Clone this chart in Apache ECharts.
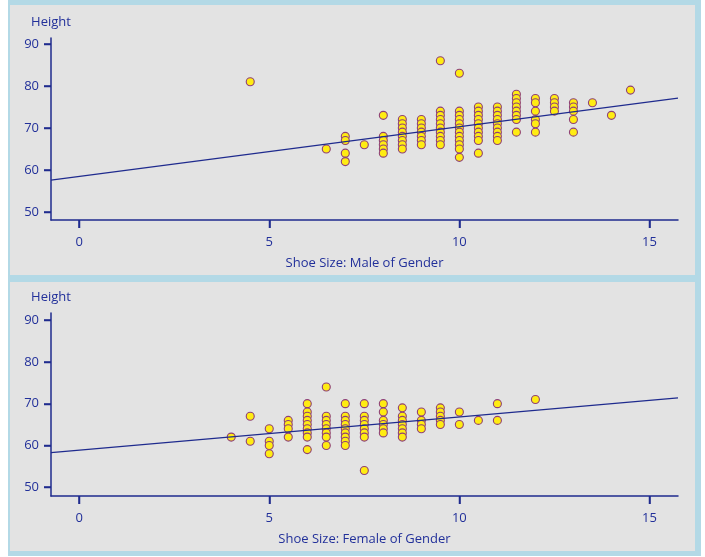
<!DOCTYPE html>
<html>
<head>
<meta charset="utf-8">
<script src="https://cdn.jsdelivr.net/npm/echarts@6/dist/echarts.min.js"></script>
<style>
	html, body { margin: 0; padding: 0; background: #fff; }
	#chart { width: 705px; height: 557px; }
</style>
</head>
<body>
<div id="chart"></div>
<script>
// shoe size / height, one entry per point
var maleSizes = [4.5, 6.5, 7, 7, 7, 7, 7.5,
	8, 8, 8, 8, 8, 8,
	8.5, 8.5, 8.5, 8.5, 8.5, 8.5, 8.5, 8.5,
	9, 9, 9, 9, 9, 9, 9,
	9.5, 9.5, 9.5, 9.5, 9.5, 9.5, 9.5, 9.5, 9.5, 9.5,
	10, 10, 10, 10, 10, 10, 10, 10, 10, 10, 10, 10,
	10.5, 10.5, 10.5, 10.5, 10.5, 10.5, 10.5, 10.5, 10.5, 10.5,
	11, 11, 11, 11, 11, 11, 11, 11, 11,
	11.5, 11.5, 11.5, 11.5, 11.5, 11.5, 11.5, 11.5,
	12, 12, 12, 12, 12, 12,
	12.5, 12.5, 12.5, 12.5,
	13, 13, 13, 13, 13,
	13.5, 14, 14.5];
var maleHeights = [81, 65, 68, 67, 64, 62, 66,
	73, 68, 67, 66, 65, 64,
	72, 71, 70, 69, 68, 67, 66, 65,
	72, 71, 70, 69, 68, 67, 66,
	86, 74, 73, 72, 71, 70, 69, 68, 67, 66,
	83, 74, 73, 72, 71, 70, 69, 68, 67, 66, 65, 63,
	75, 74, 73, 72, 71, 70, 69, 68, 67, 64,
	75, 74, 73, 72, 71, 70, 69, 68, 67,
	78, 77, 76, 75, 74, 73, 72, 69,
	77, 76, 74, 72, 71, 69,
	77, 76, 75, 74,
	76, 75, 74, 72, 69,
	76, 73, 79];

var femaleSizes = [4, 4.5, 4.5, 5, 5, 5, 5,
	5.5, 5.5, 5.5, 5.5,
	6, 6, 6, 6, 6, 6, 6, 6, 6,
	6.5, 6.5, 6.5, 6.5, 6.5, 6.5, 6.5, 6.5,
	7, 7, 7, 7, 7, 7, 7, 7, 7,
	7.5, 7.5, 7.5, 7.5, 7.5, 7.5, 7.5, 7.5,
	8, 8, 8, 8, 8, 8,
	8.5, 8.5, 8.5, 8.5, 8.5, 8.5, 8.5,
	9, 9, 9, 9,
	9.5, 9.5, 9.5, 9.5, 9.5,
	10, 10, 10.5, 11, 11, 12];
var femaleHeights = [62, 67, 61, 64, 61, 60, 58,
	66, 65, 64, 62,
	70, 68, 67, 66, 65, 64, 63, 62, 59,
	74, 67, 66, 65, 64, 63, 62, 60,
	70, 67, 66, 65, 64, 63, 62, 61, 60,
	70, 67, 66, 65, 64, 63, 62, 54,
	70, 68, 66, 65, 64, 63,
	69, 67, 66, 65, 64, 63, 62,
	68, 66, 65, 64,
	69, 68, 67, 66, 65,
	68, 65, 66, 70, 66, 71];

// fitted lines, read at both ends of the x axis
var lineX = [-0.74, 15.75];
var maleFit = [57.6, 77.1];
var femaleFit = [58.3, 71.4];

var xTicks = [0, 5, 10, 15];
var yTicks = [50, 60, 70, 80, 90];

// y extents of the panels
var maleY = [48.1, 91.4];
var femaleY = [47.9, 91.7];

var navy = '#1f2b8e';
var textBlue = '#22309a';
var fontFamily = '"Open Sans", "DejaVu Sans", sans-serif';

function pairs(xs, ys){
	var out = [];
	for (var i = 0; i < xs.length; i++) {
		out.push([xs[i], ys[i]]);
	}
	return out;
}

function xAxisFor(idx, name){
	return {
		type: 'value',
		gridIndex: idx,
		min: lineX[0],
		max: lineX[1],
		name: name,
		nameLocation: 'middle',
		nameGap: 37,
		nameTextStyle: { color: textBlue, fontSize: 13, fontFamily: fontFamily },
		axisLine: { onZero: false, lineStyle: { color: navy, width: 1.5 } },
		axisTick: { show: true, length: 8, customValues: xTicks, lineStyle: { color: navy, width: 1.5 } },
		axisLabel: { customValues: xTicks, color: textBlue, fontSize: 13, margin: 16, fontFamily: fontFamily },
		splitLine: { show: false }
	};
}

function yAxisFor(idx, range){
	return {
		type: 'value',
		gridIndex: idx,
		min: range[0],
		max: range[1],
		name: 'Height',
		nameLocation: 'end',
		nameGap: 9,
		nameTextStyle: { color: textBlue, fontSize: 13, fontFamily: fontFamily, align: 'center' },
		axisLine: { show: true, onZero: false, lineStyle: { color: navy, width: 1.5 } },
		axisTick: { show: true, length: 7, customValues: yTicks, lineStyle: { color: navy, width: 1.5 } },
		axisLabel: { customValues: yTicks, color: textBlue, fontSize: 13, margin: 12, fontFamily: fontFamily },
		splitLine: { show: false }
	};
}

function dots(idx, xs, ys){
	return {
		type: 'scatter',
		xAxisIndex: idx,
		yAxisIndex: idx,
		symbol: 'circle',
		symbolSize: 8,
		itemStyle: { color: '#ffec12', borderColor: '#8e3f78', borderWidth: 1.1, opacity: 1 },
		data: pairs(xs, ys),
		z: 2
	};
}

function fitLine(idx, ys){
	return {
		type: 'line',
		xAxisIndex: idx,
		yAxisIndex: idx,
		symbol: 'none',
		lineStyle: { color: navy, width: 1.2 },
		data: pairs(lineX, ys),
		z: 3
	};
}

// tick marks placed through the axis scales, drawn outside the plot
function xTickMarks(idx, yRange){
	var data = xTicks.map(function(v){ return [v, yRange[0]]; });
	return {
		type: 'custom',
		xAxisIndex: idx,
		yAxisIndex: idx,
		silent: true,
		clip: false,
		z: 4,
		data: data,
		renderItem: function(params, api){
			var p = api.coord([api.value(0), api.value(1)]);
			var x = Math.round(p[0]) + 0.5;
			return {
				type: 'line',
				shape: { x1: x, y1: p[1], x2: x, y2: p[1] + 8 },
				style: { stroke: navy, lineWidth: 1.5 }
			};
		}
	};
}

function yTickMarks(idx){
	var data = yTicks.map(function(v){ return [lineX[0], v]; });
	return {
		type: 'custom',
		xAxisIndex: idx,
		yAxisIndex: idx,
		silent: true,
		clip: false,
		z: 4,
		data: data,
		renderItem: function(params, api){
			var p = api.coord([api.value(0), api.value(1)]);
			var y = Math.round(p[1]) + 0.5;
			return {
				type: 'line',
				shape: { x1: p[0] - 7, y1: y, x2: p[0], y2: y },
				style: { stroke: navy, lineWidth: 1.5 }
			};
		}
	};
}

var chart = echarts.init(document.getElementById('chart'));
chart.setOption({
	animation: false,
	backgroundColor: '#ffffff',
	graphic: [
		{ type: 'rect', shape: { x: 8, y: 0, width: 693, height: 556 }, style: { fill: '#b3d9e6' }, z: -10 },
		{ type: 'rect', shape: { x: 10, y: 5, width: 685, height: 270 }, style: { fill: '#e3e3e3' }, z: -9 },
		{ type: 'rect', shape: { x: 10, y: 282, width: 685, height: 269 }, style: { fill: '#e3e3e3' }, z: -9 }
	],
	grid: [
		{ left: 51, right: 27, top: 38, bottom: 337 },
		{ left: 51, right: 27, top: 313, bottom: 61 }
	],
	xAxis: [
		xAxisFor(0, 'Shoe Size: Male of Gender'),
		xAxisFor(1, 'Shoe Size: Female of Gender')
	],
	yAxis: [
		yAxisFor(0, maleY),
		yAxisFor(1, femaleY)
	],
	series: [
		dots(0, maleSizes, maleHeights),
		fitLine(0, maleFit),
		xTickMarks(0, maleY),
		yTickMarks(0),
		dots(1, femaleSizes, femaleHeights),
		fitLine(1, femaleFit),
		xTickMarks(1, femaleY),
		yTickMarks(1)
	]
});
</script>
</body>
</html>
